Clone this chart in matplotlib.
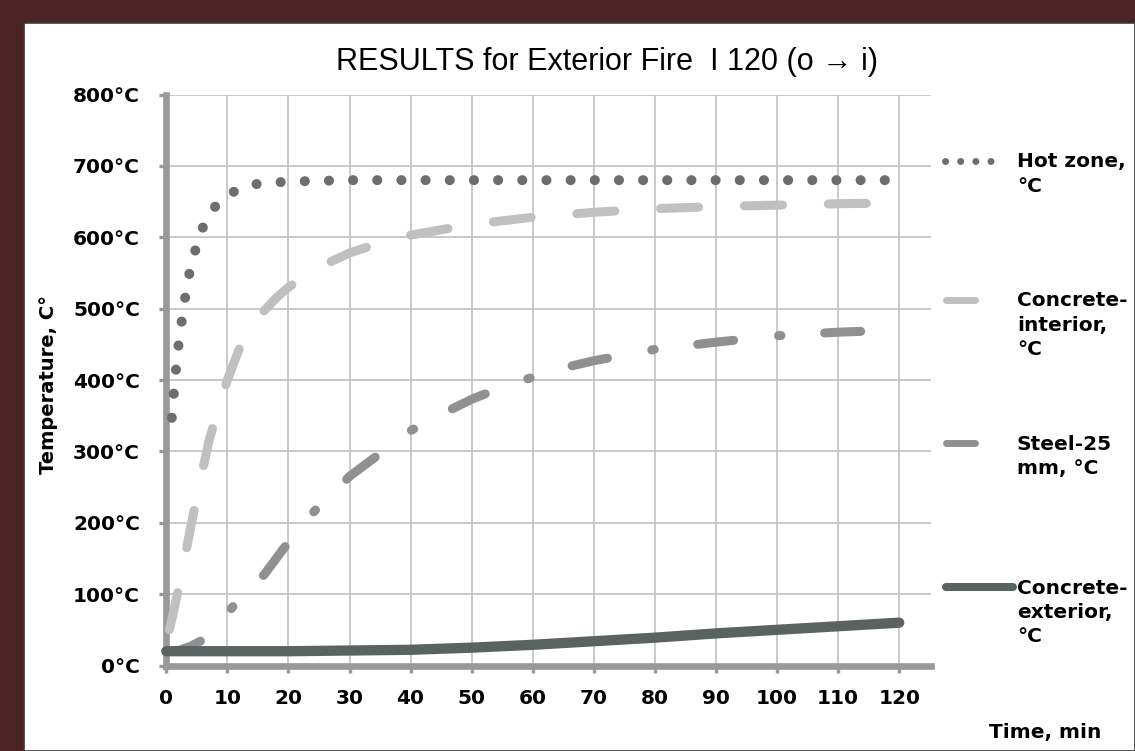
import matplotlib
matplotlib.use("Agg")
import matplotlib.pyplot as plt
from matplotlib.lines import Line2D
from matplotlib.patches import Rectangle
from matplotlib.ticker import FuncFormatter

plt.rcParams["font.family"] = ["DejaVu Sans"]
plt.rcParams["lines.scale_dashes"] = False

# %%
# Values (time in min, temperature in °C)
hot_t = [0.9, 1.5, 2, 2.5, 3, 4, 5, 6, 8, 10, 12, 15, 20, 25, 30, 40, 50, 60, 70, 80, 90, 100, 110, 120]
hot_T = [347, 408, 449, 481, 511, 560, 589, 614, 643, 659, 668, 675, 678, 679, 680, 680, 680, 680, 680, 680, 680, 680, 680, 680]

int_t = [0.5, 1, 2, 3, 4, 5, 6, 7, 8, 9, 10, 12, 14, 16, 18, 20, 25, 30, 35, 40, 50, 60, 70, 80, 90, 100, 110, 120]
int_T = [50, 68, 108, 150, 194, 236, 276, 315, 345, 372, 400, 445, 475, 497, 515, 530, 558, 578, 592, 603, 618, 628, 635, 640, 643, 645, 647, 648]

steel_t = [0, 2, 4, 6, 8, 10, 12, 14, 16, 18, 20, 22, 25, 30, 35, 40, 45, 50, 55, 60, 65, 70, 75, 80, 90, 100, 110, 120]
steel_T = [20, 21, 27, 36, 52, 73, 94, 110, 127, 150, 173, 196, 223, 265, 297, 329, 352, 373, 390, 404, 417, 427, 435, 443, 453, 462, 467, 470]

ext_t = [0, 10, 20, 30, 40, 50, 60, 70, 80, 90, 100, 110, 120]
ext_T = [20, 20, 20, 21, 22, 25, 29, 34, 39, 45, 50, 55, 60]

labels = ["Hot zone,\n°C", "Concrete-\ninterior,\n°C", "Steel-25\nmm, °C", "Concrete-\nexterior,\n°C"]
x_ticks = list(range(0, 121, 10))
y_ticks = list(range(0, 801, 100))

# %%
W, H = 1135, 751
fig = plt.figure(figsize=(W / 100, H / 100), dpi=100, facecolor="#4b2525")


def fx(px):
    return px / W


def fy(py):
    return 1 - py / H


# white chart panel
fig.add_artist(Rectangle((fx(24), 0), 1 - fx(24), fy(22.5), transform=fig.transFigure,
                         facecolor="white", edgecolor="#3a3a3a", linewidth=1.2, zorder=0))

ax_left, ax_right, ax_top, ax_bottom = 166.3, 931, 94.5, 665.5
ax = fig.add_axes([fx(ax_left), fy(ax_bottom), fx(ax_right - ax_left), (ax_bottom - ax_top) / H])
ax.set_facecolor("white")

styles = [
    dict(color="#6b6d6e", lw=7.2, dashes=(0.1, 17.3), dash_capstyle="round"),
    dict(color="#c0c0c0", lw=6.5, dashes=(27.4, 33), dash_capstyle="round"),
    dict(color="#8e9092", lw=6.5, dashes=(26, 32.5, 1.8, 31.5), dash_capstyle="round"),
    dict(color="#5a6361", lw=7.4, solid_capstyle="round"),
]
series = [(hot_t, hot_T), (int_t, int_T), (steel_t, steel_T), (ext_t, ext_T)]

for (t, T), st in zip(series, styles):
    ax.plot(t, T, clip_on=False, zorder=3, **st)

ax.set_xlim(0, 125.2)
ax.set_ylim(0, 800)
ax.set_xticks(x_ticks)
ax.set_yticks(y_ticks)
ax.yaxis.set_major_formatter(FuncFormatter(lambda v, p: f"{v:.0f}°C"))
ax.grid(True, color="#c0c0c0", linewidth=1.2, zorder=1)
ax.set_axisbelow(True)

for s in ["top", "right"]:
    ax.spines[s].set_visible(False)
for s in ["left", "bottom"]:
    ax.spines[s].set_color("#999999")
    ax.spines[s].set_linewidth(4.8)

ax.tick_params(axis="both", direction="out", length=5, width=2.4, color="#999999",
               labelsize=14.5, labelcolor="black")
ax.tick_params(axis="y", pad=14)
ax.tick_params(axis="x", pad=12)
for lab in ax.get_xticklabels() + ax.get_yticklabels():
    lab.set_fontweight("bold")

ax.set_ylabel("Temperature, C°", fontsize=14, fontweight="bold")
ax.yaxis.set_label_coords((58 - ax_left) / (ax_right - ax_left), (ax_bottom - 384) / (ax_bottom - ax_top))
ax.set_xlabel("Time, min", fontsize=14.5, fontweight="bold")
ax.xaxis.set_label_coords((1045 - ax_left) / (ax_right - ax_left), (ax_bottom - 723) / (ax_bottom - ax_top))

fig.text(fx(607), fy(70), "RESULTS for Exterior Fire  I 120 (o \u2192 i)",
         family=["Liberation Sans", "DejaVu Sans"], fontsize=22, ha="center", va="baseline")

# legend on the right, keys aligned with the first text line
key_y = [161, 300, 443, 587]
key_x = [(945, 1005), (945.5, 974.5), (945.5, 974.5), (946, 1013)]
key_styles = [
    dict(color="#6b6d6e", lw=5, dashes=(0.1, 10.8), dash_capstyle="round"),
    dict(color="#c0c0c0", lw=5, solid_capstyle="round"),
    dict(color="#8e9092", lw=5, solid_capstyle="round"),
    dict(color="#5a6361", lw=5.8, solid_capstyle="round"),
]
for yk, (x0, x1), st, lab in zip(key_y, key_x, key_styles, labels):
    fig.add_artist(Line2D([fx(x0), fx(x1)], [fy(yk), fy(yk)], transform=fig.transFigure, **st))
    fig.text(fx(1017), fy(yk - 8.5), lab, fontsize=14.5, fontweight="bold",
             ha="left", va="top", linespacing=1.35)

fig.savefig("out.png", dpi=100, facecolor=fig.get_facecolor())
